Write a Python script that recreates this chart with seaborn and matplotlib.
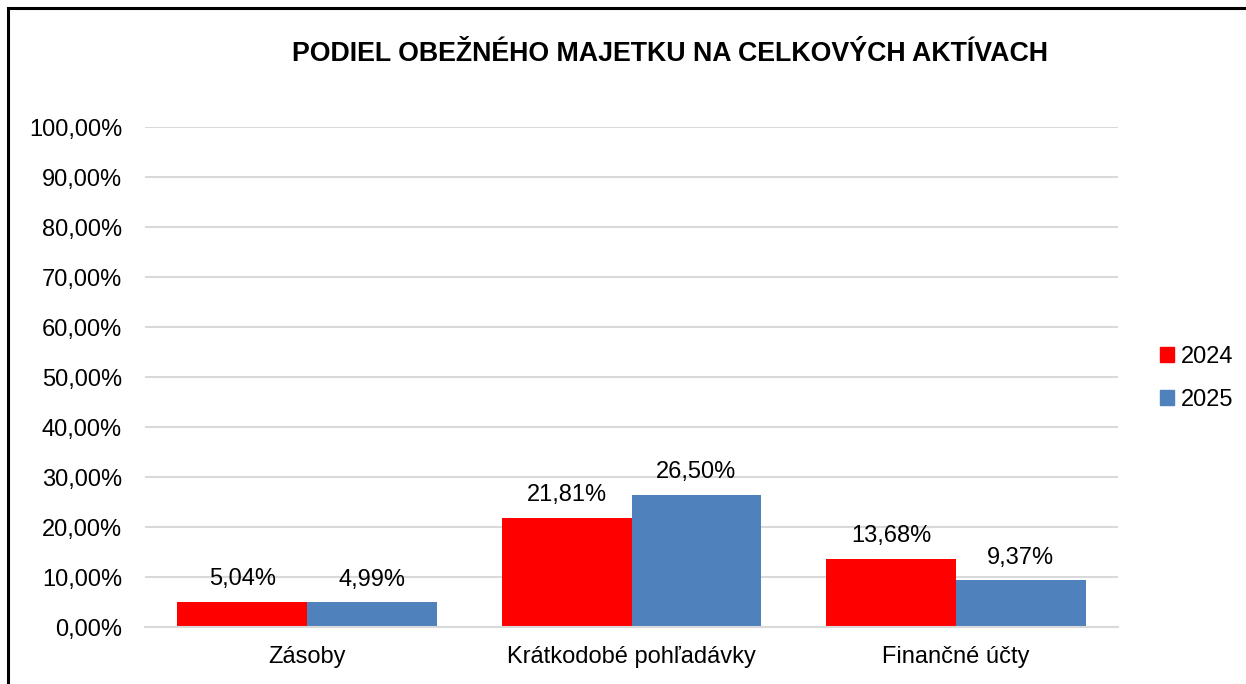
import matplotlib
matplotlib.use("Agg")
import matplotlib.pyplot as plt
import matplotlib.patches as mpatches
import seaborn as sns
import pandas as pd

categories = ["Zásoby", "Krátkodobé pohľadávky", "Finančné účty"]
years = ["2024", "2025"]
values_2024 = [5.04, 21.81, 13.68]
values_2025 = [4.99, 26.50, 9.37]
y_ticks = [0, 10, 20, 30, 40, 50, 60, 70, 80, 90, 100]
title = "PODIEL OBEŽNÉHO MAJETKU NA CELKOVÝCH AKTÍVACH"
colors = {"2024": "#FF0000", "2025": "#4F81BD"}

df = pd.DataFrame({
    "kategoria": categories * 2,
    "rok": [years[0]] * 3 + [years[1]] * 3,
    "podiel": values_2024 + values_2025,
})

sns.set_theme(style="white")
plt.rcParams["font.family"] = ["Liberation Sans", "DejaVu Sans"]
plt.rcParams["text.color"] = "#000000"

FS = 17

fig = plt.figure(figsize=(12.46, 6.84), dpi=100)
ax = fig.add_axes([0.1164, 0.0833, 0.7809, 0.7310])

sns.barplot(data=df, x="kategoria", y="podiel", hue="rok", palette=colors,
            order=categories, hue_order=years, width=0.8, ax=ax,
            saturation=1, errorbar=None, legend=False, linewidth=0)

for container in ax.containers:
    labels = [f"{v:.2f}%".replace(".", ",") for v in container.datavalues]
    ax.bar_label(container, labels=labels, padding=8.3, fontsize=FS, color="#000000")

ax.set_xlim(-0.5, 2.5)
ax.set_ylim(0, 100)
ax.set_yticks(y_ticks)
ax.set_yticklabels([f"{t:.2f}%".replace(".", ",") for t in y_ticks], fontsize=FS)
ax.tick_params(axis="x", labelsize=FS, length=0, pad=14, labelcolor="#000000")
ax.tick_params(axis="y", length=0, pad=16.5, labelcolor="#000000")
ax.set_xlabel("")
ax.set_ylabel("")
ax.grid(axis="y", color="#D9D9D9", linewidth=1.5)
ax.set_axisbelow(True)
for side in ["top", "right", "left"]:
    ax.spines[side].set_visible(False)
ax.spines["bottom"].set_color("#D9D9D9")
ax.spines["bottom"].set_linewidth(1.5)

fig.text(0.5377, 0.921, title, ha="center", va="center",
         fontsize=19.3, fontweight="bold", color="#000000")

handles = [mpatches.Patch(color=colors[y], label=y) for y in years]
fig.legend(handles=handles, loc="center left", bbox_to_anchor=(0.914, 0.447),
           frameon=False, fontsize=FS, handlelength=0.6, handleheight=0.6,
           handletextpad=0.3, labelspacing=0.9)

# chart frame
frame = mpatches.Rectangle((8 / 1246, -0.05), 1.2, 1 - 8 / 684 + 0.05,
                           transform=fig.transFigure, fill=False,
                           edgecolor="#000000", linewidth=2.2)
fig.add_artist(frame)

fig.savefig("out.png", dpi=100)
